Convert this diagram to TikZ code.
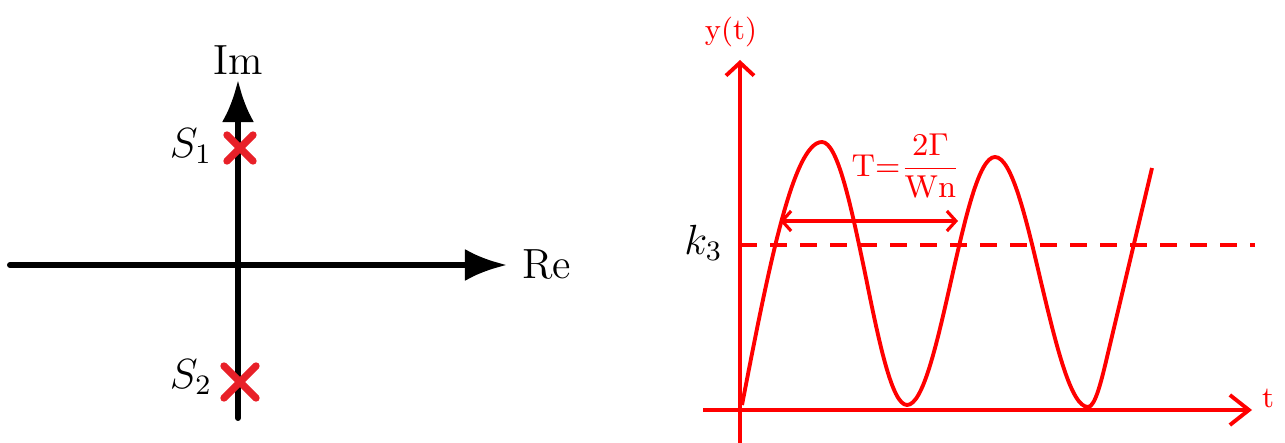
\documentclass[tikz,border=0pt]{standalone}
\usetikzlibrary{arrows.meta}
\definecolor{crossred}{RGB}{232,32,40}
\begin{document}
\begin{tikzpicture}[x=0.01cm,y=-0.01cm,
  axis/.style={line width=1.7pt,line cap=round},
  sig/.style={red,line width=1.1pt},
  pole/.style={crossred,line width=2.1pt,line cap=round},
  lbl/.style={font=\fontsize{12}{14}\selectfont},
  rlbl/.style={red,font=\fontsize{8.5}{10}\selectfont}]
\useasboundingbox (0,0) rectangle (1285,443);
% s-plane
\coordinate (reL) at (10,265);
\coordinate (reR) at (507,265);
\coordinate (imB) at (238,418);
\coordinate (imT) at (238,80);
\draw[axis,-{Latex[length=0.42cm,width=0.32cm]}] (reL) -- (reR);
\draw[axis,-{Latex[length=0.42cm,width=0.32cm]}] (imB) -- (imT);
\node[lbl] (im) at (238,60) {Im};
\node[lbl,anchor=west] (re) at (510,265) {Re};
% poles
\coordinate (s1) at (240,148);
\coordinate (s2) at (240,382);
\draw[pole] (s1) +(-13,-13) -- +(13,13) (s1) +(-13,13) -- +(13,-13);
\draw[pole] (s2) +(-16,-16) -- +(16,16) (s2) +(-16,16) -- +(16,-16);
\node[lbl] (s1lbl) at (191,146) {$S_1$};
\node[lbl] (s2lbl) at (191,377) {$S_2$};
% step response
\coordinate (tL) at (703,410);
\coordinate (tR) at (1252,410);
\coordinate (yB) at (740,443);
\coordinate (yT) at (740,60);
\draw[sig,-{Straight Barb[length=0.19cm,width=0.3cm]}] (tL) -- (tR);
\draw[sig,-{Straight Barb[length=0.13cm,width=0.28cm]}] (yB) -- (yT);
\node[rlbl] (tlbl) at (1268,398) {t};
\node[rlbl] (ylbl) at (731,32) {y(t)};
\coordinate (kL) at (740,245);
\coordinate (kR) at (1255,245);
\draw[sig,dash pattern=on 0.17cm off 0.13cm] (kL) -- (kR);
\node[lbl,anchor=east] (k3) at (735,243) {$k_3$};
\draw[sig] (742,405) sin (822,142) cos (865,273) sin (907,405) cos (951,281)
  sin (995,157) cos (1041,282) sin (1088,407) cos (1108,353) -- (1152,168);
% period
\coordinate (pL) at (780,221);
\coordinate (pR) at (958,221);
\draw[red,line width=0.9pt,{Straight Barb[length=0.09cm,width=0.2cm]}-{Straight Barb[length=0.09cm,width=0.2cm]}] (pL) -- (pR);
\node[red,font=\fontsize{9}{11}\selectfont,inner sep=0pt] (per) at (906,166) {$\mathrm{T}{=}\displaystyle\frac{2\Gamma}{\mathrm{Wn}}$};
\end{tikzpicture}
\end{document}
